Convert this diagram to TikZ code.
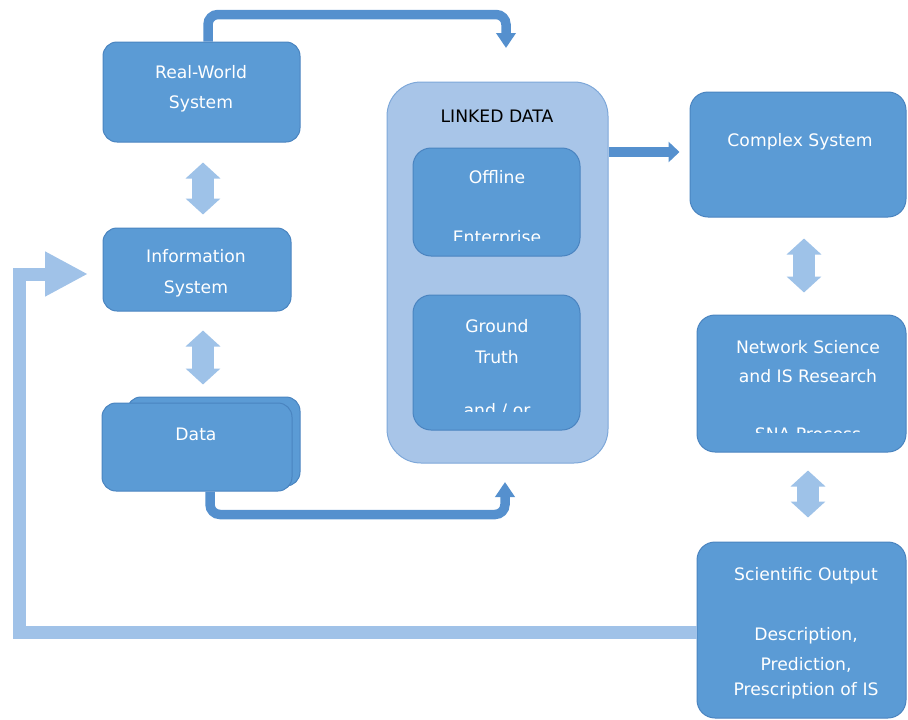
\documentclass[tikz,border=0pt]{standalone}
\usepackage{fontspec}
\setmainfont{DejaVu Sans}
\usetikzlibrary{arrows.meta}
\definecolor{boxfill}{HTML}{5B9BD5}
\definecolor{boxline}{HTML}{4A84C0}
\definecolor{contfill}{HTML}{A8C5E8}
\definecolor{contline}{HTML}{7EA8D9}
\definecolor{flowcol}{HTML}{5590CE}
\definecolor{lightarrow}{HTML}{9EC2E8}
\definecolor{fbcol}{HTML}{A0C2E8}
\newcommand{\lblfont}{\fontsize{17.2}{30}\selectfont}
\tikzset{
  box/.style={draw=boxline, fill=boxfill, rounded corners=14pt, line width=1pt, inner sep=0pt},
  container/.style={draw=contline, fill=contfill, rounded corners=34pt, line width=1pt, inner sep=0pt},
  lbl/.style={text=white, font=\lblfont, anchor=base, inner sep=0pt},
  dlbl/.style={text=black, font=\lblfont, anchor=base, inner sep=0pt},
  flow/.style={draw=flowcol, line width=9.5pt, rounded corners=10pt, -{Triangle[width=19pt,length=15pt]}},
  flowstraight/.style={draw=flowcol, line width=9.5pt, -{Triangle[width=20pt,length=11pt]}},
  twoway/.style={draw=lightarrow, line width=22pt, {Triangle[width=34pt,length=16pt]}-{Triangle[width=34pt,length=16pt]}},
  feedback/.style={draw=fbcol, line width=13pt, -{Triangle[width=42pt,length=43pt]}},
}
\begin{document}
\begin{tikzpicture}[x=1pt,y=-1pt]
\useasboundingbox (0,0) rectangle (908,720);
\clip (0,0) rectangle (908,720);

% boxes
\node[box, minimum width=197pt, minimum height=100pt] (rw) at (201.5,92) {};
\node[box, minimum width=188pt, minimum height=83pt] (is) at (197,269.5) {};
\node[box, minimum width=173pt, minimum height=89pt] (databack) at (213.5,441.5) {};
\node[box, minimum width=190pt, minimum height=88pt] (data) at (197,447) {};
\node[container, minimum width=221pt, minimum height=381pt] (linked) at (497.5,272.5) {};
\node[box, rounded corners=18pt, minimum width=167pt, minimum height=108pt] (off) at (496.5,202) {};
\node[box, rounded corners=18pt, minimum width=167pt, minimum height=135pt] (gt) at (496.5,362.5) {};
\node[box, rounded corners=18pt, minimum width=216pt, minimum height=125pt] (cs) at (798,154.5) {};
\node[box, rounded corners=18pt, minimum width=209pt, minimum height=137pt] (ns) at (801.5,383.5) {};
\node[box, rounded corners=18pt, minimum width=209pt, minimum height=176pt] (so) at (801.5,630) {};

% free ends
\coordinate (t1) at (506,48);
\coordinate (t2) at (505,482);
\coordinate (t4) at (88,274);

% dark flow arrows
\draw[flow] ([xshift=6.5pt]rw.north) -- ++(0,-27) -| (t1);
\draw[flow] ([xshift=13pt]data.south) -- ++(0,23) -| (t2);
\draw[flowstraight] (linked.east |- 0,152) -- ([xshift=-10pt]cs.west |- 0,152);

% two-way arrows
\draw[twoway, shorten <=20pt, shorten >=13pt] (rw.south -| 203,0) -- (is.north -| 203,0);
\draw[twoway, shorten <=19pt, shorten >=12pt] (is.south -| 203,0) -- (databack.north -| 203,0);
\draw[twoway, shorten <=21pt, shorten >=22pt] (cs.south -| 804,0) -- (ns.north -| 804,0);
\draw[twoway, shorten <=18pt, shorten >=24pt] (ns.south -| 808,0) -- (so.north -| 808,0);

% feedback arrow
\draw[feedback] (so.west |- 0,632) -| (19,274) -- (t4);

% labels
\node[lbl] (l1) at (201,78) {Real-World};
\node[lbl] (l2) at (201,108) {System};
\node[lbl] (l3) at (196,262) {Information};
\node[lbl] (l4) at (196,293) {System};
\node[lbl] (l5) at (196,440) {Data};
\node[dlbl] (l6) at (497,122) {LINKED DATA};
\node[lbl] (l7) at (497,183) {Offline};
\node[lbl] (l9) at (497,332) {Ground};
\node[lbl] (l10) at (497,363) {Truth};
\node[lbl] (l12) at (800,146) {Complex System};
\node[lbl] (l13) at (808,353) {Network Science};
\node[lbl] (l14) at (808,382) {and IS Research};
\node[lbl] (l16) at (806,580) {Scientific Output};
\node[lbl] (l17) at (806,640) {Description,};
\node[lbl] (l18) at (806,670) {Prediction,};
\node[lbl] (l19) at (806,695) {Prescription of IS};

% clipped labels
\begin{scope}
\clip (413,148) rectangle (580,240);
\node[lbl] (l8) at (497,243) {Enterprise};
\end{scope}
\begin{scope}
\clip (413,295) rectangle (580,411.5);
\node[lbl] (l11) at (497,416) {and / or};
\end{scope}
\begin{scope}
\clip (697,315) rectangle (906,432);
\node[lbl] (l15) at (808,440) {SNA Process};
\end{scope}
\end{tikzpicture}
\end{document}
